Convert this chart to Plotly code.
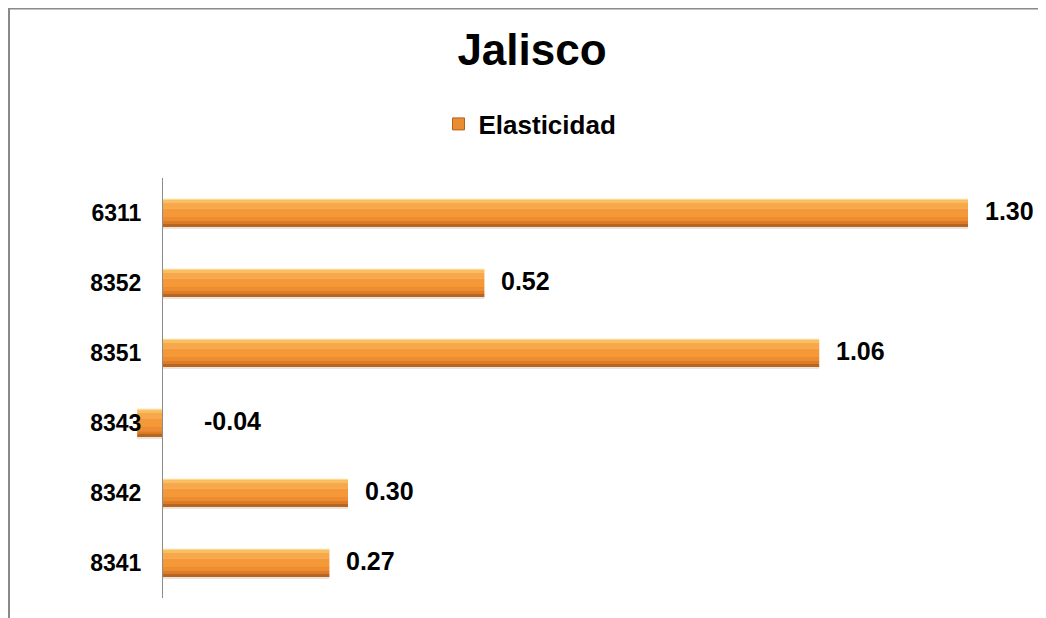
import plotly.graph_objects as go

# ---- data (bottom to top as drawn) ----
categories = ["8341", "8342", "8343", "8351", "8352", "6311"]
elasticidad = [0.27, 0.30, -0.04, 1.06, 0.52, 1.30]
value_labels = ["0.27", "0.30", "-0.04", "1.06", "0.52", "1.30"]
series_name = "Elasticidad"
title_text = "Jalisco"

# ---- layout constants (page has an 8px body margin) ----
W, H = 1038, 610
ML, MR, MT, MB = 92, 46, 170, 20
X_RANGE = [-0.1, 1.3516]
FONT = "Liberation Sans, Arial, sans-serif"

# vertical gradient of the bevelled bar, top -> bottom: (share of height, colour)
BAR_W = 0.40
gradient = [
    (0.05, "#FCDA92"),
    (0.10, "#F9BE64"),
    (0.20, "#F7A84B"),
    (0.30, "#F49838"),
    (0.15, "#EE8D30"),
    (0.10, "#DC7C28"),
    (0.10, "#B9641F"),
]

fig = go.Figure()
# soft shadow under the bar
fig.add_trace(go.Bar(
    x=elasticidad, y=categories, orientation="h",
    width=0.04, offset=-BAR_W / 2 - 0.03,
    marker=dict(color="rgba(110,80,50,0.15)", line=dict(width=0)),
    showlegend=False, hoverinfo="skip",
))
top = BAR_W / 2
for share, col in gradient:
    h = share * BAR_W
    fig.add_trace(go.Bar(
        x=elasticidad, y=categories, orientation="h",
        width=h + 0.004, offset=top - h,
        marker=dict(color=col, line=dict(width=0)),
        name=series_name, showlegend=False, hoverinfo="skip",
    ))
    top -= h
# legend entry
fig.add_trace(go.Bar(
    x=[None], y=[categories[0]], orientation="h",
    marker=dict(color="#EA8C30", line=dict(color="#B4611D", width=1)),
    name=series_name, showlegend=True,
))

# value labels
for i, (v, lab) in enumerate(zip(elasticidad, value_labels)):
    fig.add_annotation(
        x=abs(v), y=i, xref="x", yref="y", text="<b>%s</b>" % lab, showarrow=False,
        xanchor="left", yanchor="middle", xshift=15, yshift=2,
        font=dict(family=FONT, size=25, color="#000000"),
    )

pw = W - ML - MR
ph = H - MT - MB
def px_to_paper_x(px):
    return (px - ML) / pw
def px_to_paper_y(py):
    return (H - MB - py) / ph

# outer border (top and left), as in the original
border = "#8A8A8A"
fig.add_shape(type="line", xref="paper", yref="paper",
              x0=px_to_paper_x(0), x1=px_to_paper_x(W + 2),
              y0=px_to_paper_y(0.5), y1=px_to_paper_y(0.5),
              line=dict(color=border, width=2))
fig.add_shape(type="line", xref="paper", yref="paper",
              x0=px_to_paper_x(1), x1=px_to_paper_x(1),
              y0=px_to_paper_y(0), y1=px_to_paper_y(H + 2),
              line=dict(color=border, width=2))

zero_pos = (0 - X_RANGE[0]) / (X_RANGE[1] - X_RANGE[0])

fig.update_layout(
    width=W, height=H,
    margin=dict(l=ML, r=MR, t=MT, b=MB),
    paper_bgcolor="white", plot_bgcolor="white",
    barmode="overlay",
    title=dict(text="<b>%s</b>" % title_text, x=524 / W, xanchor="center",
               y=1 - 42 / H, yanchor="middle", yref="container",
               font=dict(family=FONT, size=44, color="#000000")),
    legend=dict(orientation="h", xref="container", yref="container",
                x=522 / W, xanchor="center", y=1 - 116 / H, yanchor="middle",
                font=dict(family=FONT, size=26, color="#000000", weight="bold"),
                bgcolor="rgba(0,0,0,0)", itemwidth=30),
    xaxis=dict(range=X_RANGE, showgrid=False, zeroline=False,
               showticklabels=False, showline=False, ticks=""),
    yaxis=dict(type="category", categoryorder="array", categoryarray=categories,
               range=[-0.5, len(categories) - 0.5],
               anchor="free", position=zero_pos,
               showline=True, linecolor="#8C8C8C", linewidth=1,
               showgrid=False, zeroline=False, ticks="",
               ticklabelstandoff=16,
               tickfont=dict(family=FONT, size=23, color="#000000", weight="bold")),
    showlegend=True,
)

fig.write_html("out.html")
